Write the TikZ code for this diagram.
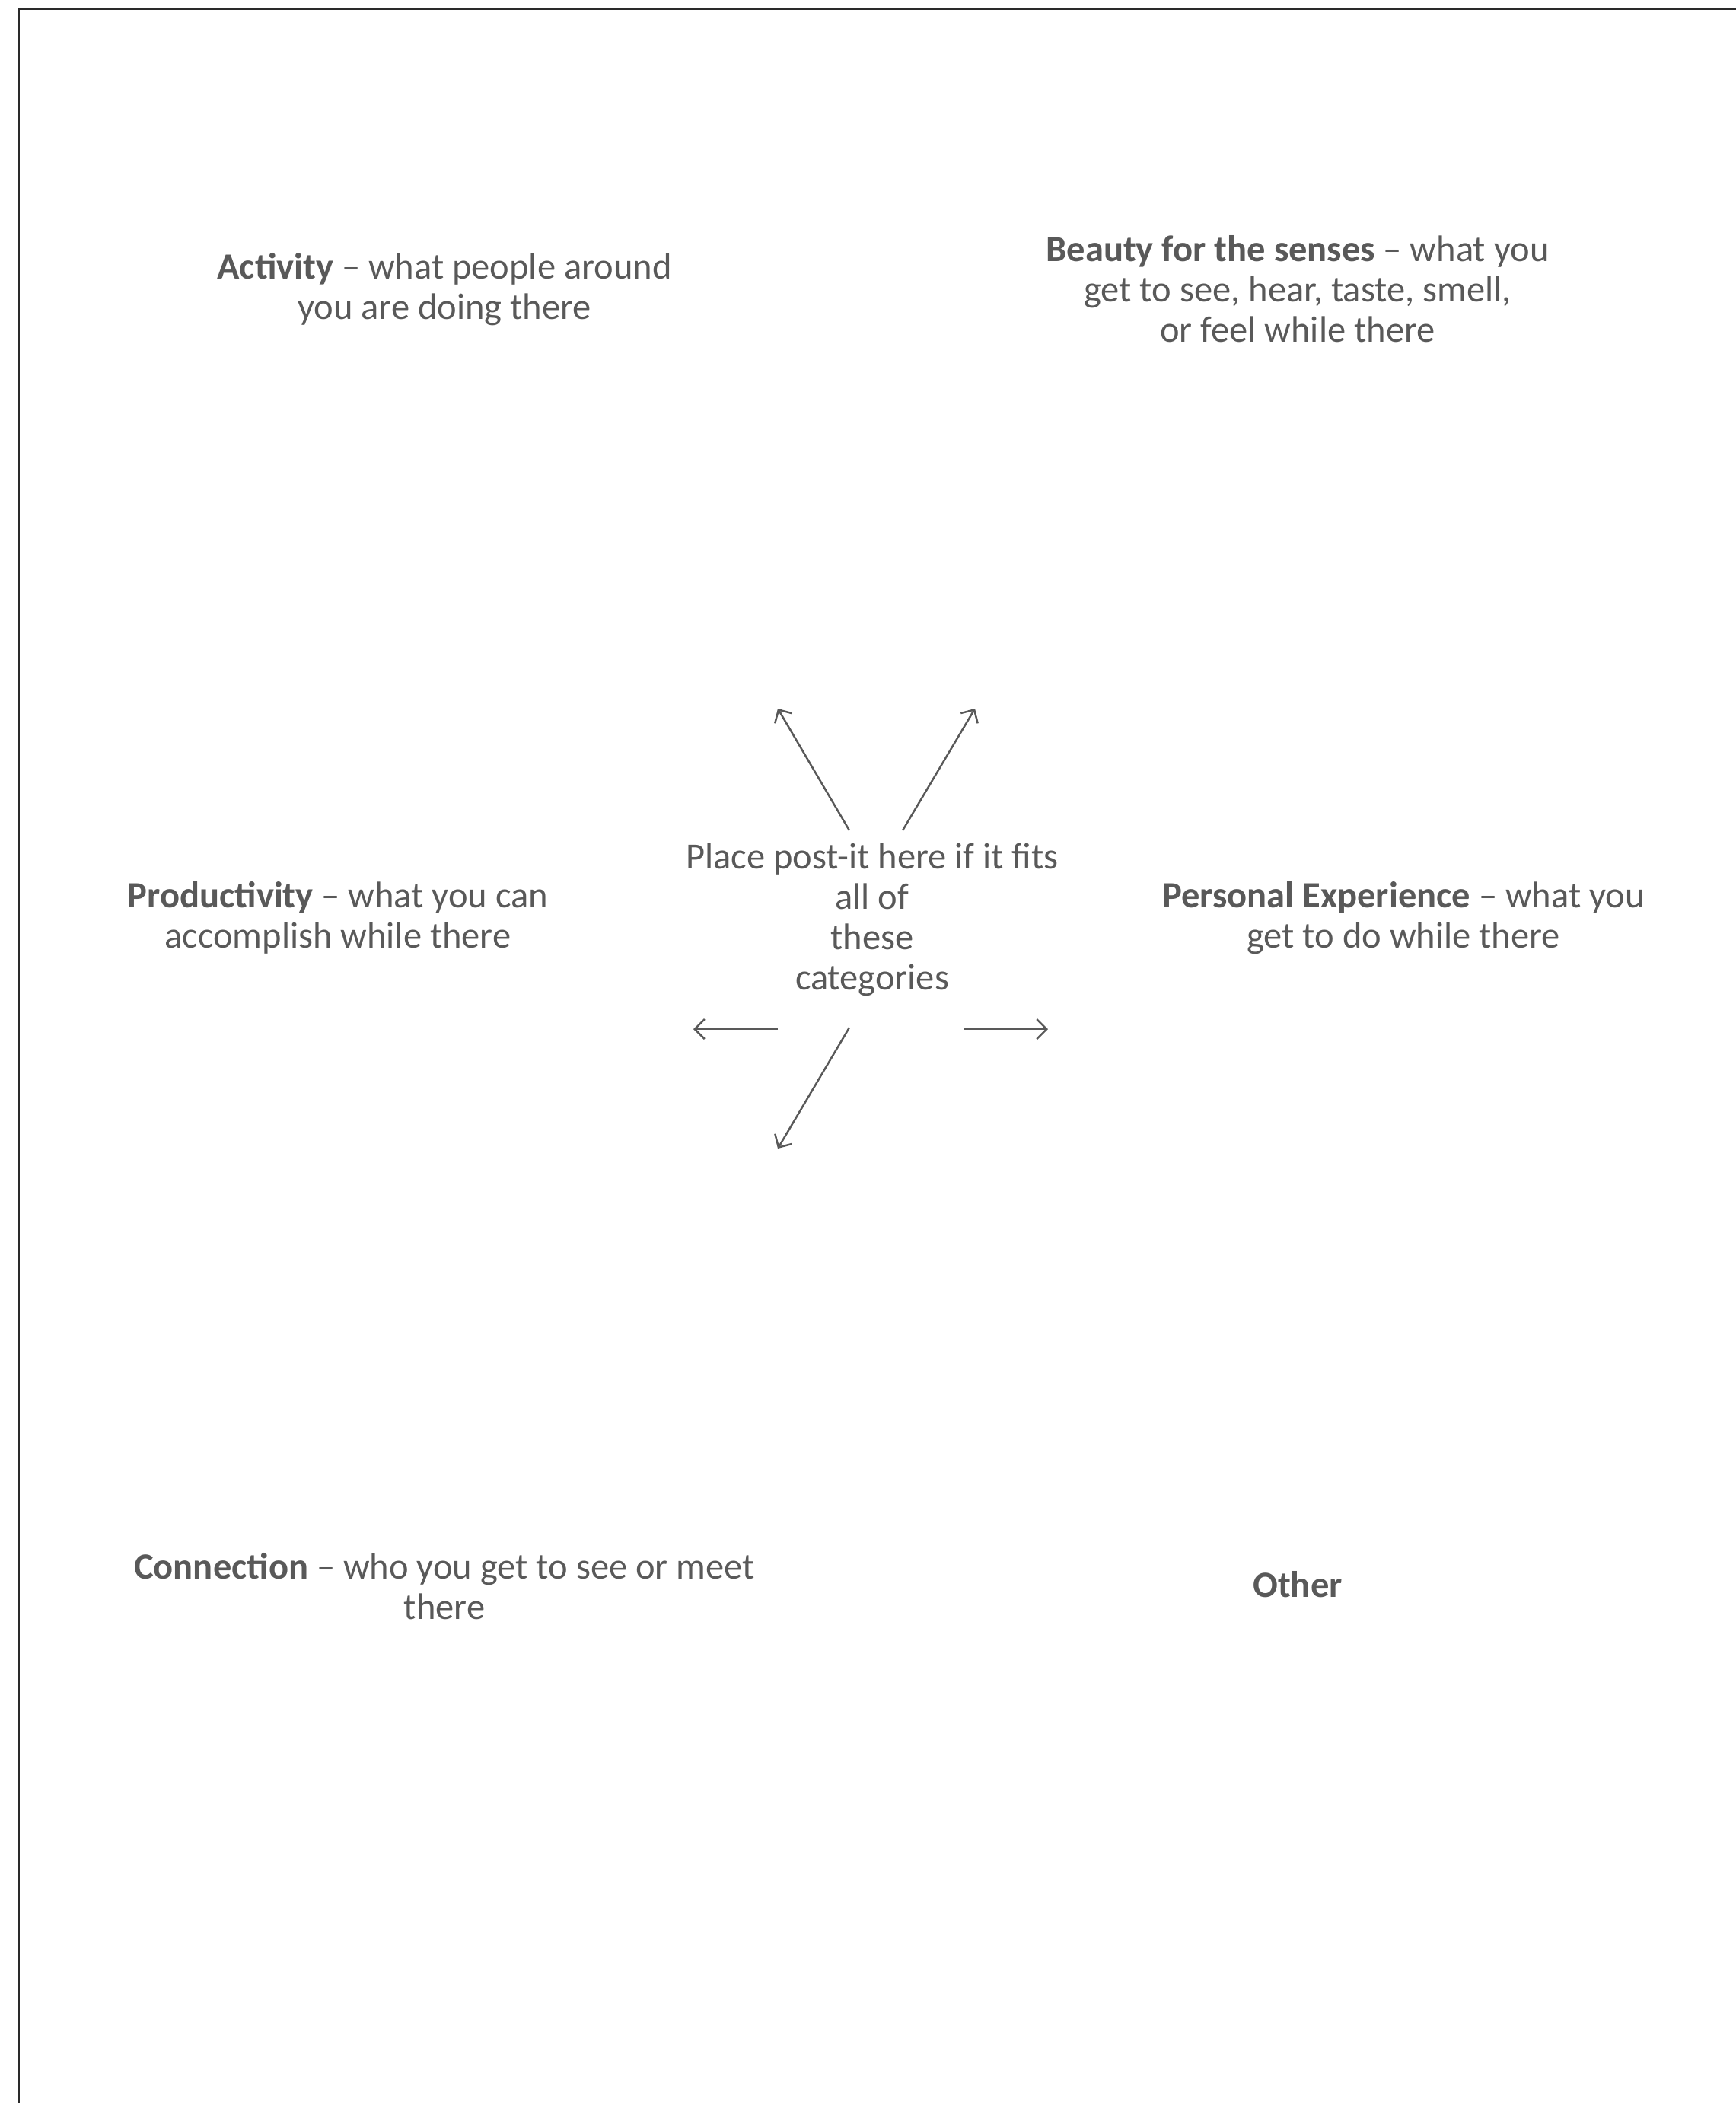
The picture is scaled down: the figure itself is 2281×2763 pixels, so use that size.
\documentclass[tikz,border=0pt]{standalone}
\usepackage{fontspec}
\setmainfont{Carlito}
\usetikzlibrary{arrows.meta}
\definecolor{txt}{HTML}{595959}
\definecolor{framec}{HTML}{2A2A2A}
\begin{document}
\begin{tikzpicture}[x=1pt,y=-1pt,
  lbl/.style={text=txt,align=center,inner sep=0pt,font=\fontsize{48.5}{53}\selectfont},
  arr/.style={draw=txt,line width=2.5pt,-{Straight Barb[length=13pt,width=26pt,line width=2.5pt]}}]
\useasboundingbox (0,0) rectangle (2281,2763);
\draw[framec,line width=3pt] (24,2770) -- (24,11) -- (2290,11);
\node[lbl] (act) at (584,380) {\textbf{Activity} -- what people around\\you are doing there};
\node[lbl] (beauty) at (1705,380) {\textbf{Beauty for the senses} -- what you\\get to see, hear, taste, smell,\\or feel while there};
\node[lbl] (prod) at (444,1206) {\textbf{Productivity} -- what you can\\accomplish while there};
\node[lbl] (center) at (1146,1208) {Place post-it here if it fits\\all of\\these\\categories};
\node[lbl] (pers) at (1844,1206) {\textbf{Personal Experience} -- what you\\get to do while there};
\node[lbl] (conn) at (584,2084) {\textbf{Connection} -- who you get to see or meet\\there};
\node[lbl] (other) at (1705,2082) {\textbf{Other}};
\coordinate (s1) at (1116,1091); \coordinate (e1) at (1022,931);
\coordinate (s2) at (1186,1091); \coordinate (e2) at (1281,931);
\coordinate (s3) at (1022,1352); \coordinate (e3) at (911,1352);
\coordinate (s4) at (1266,1352); \coordinate (e4) at (1377,1352);
\coordinate (s5) at (1116,1350); \coordinate (e5) at (1022,1509);
\draw[arr] (s1) -- (e1);
\draw[arr] (s2) -- (e2);
\draw[arr] (s3) -- (e3);
\draw[arr] (s4) -- (e4);
\draw[arr] (s5) -- (e5);
\end{tikzpicture}
\end{document}
